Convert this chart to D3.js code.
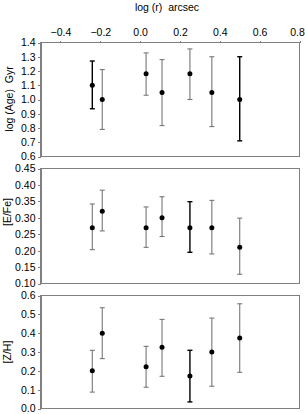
<!DOCTYPE html>
<html>
<head>
<meta charset="utf-8">
<script src="https://cdn.jsdelivr.net/npm/d3@7"></script>
<style>
  body { margin: 0; background: #fff; }
  svg text { font-family: "Liberation Sans", Arial, sans-serif; fill: #000; white-space: pre; }
  .axis path, .axis line { stroke: #808080; shape-rendering: crispEdges; }
</style>
</head>
<body>
<svg id="chart" width="305" height="414"></svg>
<script>
// radius of each aperture, log(r) in arcsec
var radius = [-0.24, -0.19, 0.03, 0.11, 0.25, 0.36, 0.50];

// log (Age) Gyr
var ageVal = [1.10, 1.00, 1.18, 1.05, 1.18, 1.05, 1.00];
var ageLo  = [0.935, 0.79, 1.03, 0.817, 1.00, 0.81, 0.71];
var ageHi  = [1.27, 1.21, 1.327, 1.28, 1.355, 1.30, 1.30];

// [E/Fe]
var efeVal = [0.27, 0.32, 0.27, 0.30, 0.27, 0.27, 0.21];
var efeLo  = [0.203, 0.26, 0.21, 0.243, 0.195, 0.19, 0.128];
var efeHi  = [0.342, 0.384, 0.333, 0.364, 0.349, 0.353, 0.299];

// [Z/H]
var zhVal = [0.20, 0.40, 0.222, 0.325, 0.173, 0.30, 0.374];
var zhLo  = [0.087, 0.265, 0.113, 0.171, 0.035, 0.118, 0.192];
var zhHi  = [0.309, 0.535, 0.33, 0.473, 0.309, 0.48, 0.556];

var xTicks = [-0.4, -0.2, 0.0, 0.2, 0.4, 0.6, 0.8];
var ageTicks = [0.6, 0.7, 0.8, 0.9, 1.0, 1.1, 1.2, 1.3, 1.4];
var efeTicks = [0.10, 0.15, 0.20, 0.25, 0.30, 0.35, 0.40, 0.45];
var zhTicks = [0.0, 0.1, 0.2, 0.3, 0.4, 0.5, 0.6];

var plotLeft = 40.5,
    plotRight = 299.5;

var svg = d3.select("#chart");

var xScale = d3.scaleLinear()
    .domain([-0.5, 0.8])
    .range([plotLeft, plotRight]);

var panels = [
    { label: "log (Age)  Gyr", val: ageVal, lo: ageLo, hi: ageHi, ticks: ageTicks,
      fmt: ".1f", top: 42.5, bottom: 156.5, labelX: 13, labelY: 99, dark: [0, 6] },
    { label: "[E/Fe]", val: efeVal, lo: efeLo, hi: efeHi, ticks: efeTicks,
      fmt: ".2f", top: 168.5, bottom: 283.5, labelX: 11, labelY: 212, dark: [4] },
    { label: "[Z/H]", val: zhVal, lo: zhLo, hi: zhHi, ticks: zhTicks,
      fmt: ".1f", top: 295.5, bottom: 408.5, labelX: 11, labelY: 352, dark: [4] }
];

// x title + top axis
svg.append("text")
    .attr("x", 167)
    .attr("y", 11)
    .attr("text-anchor", "middle")
    .style("font-size", "10.5px")
    .text("log (r)  arcsec");

svg.append("g")
    .attr("class", "axis")
    .attr("transform", "translate(0," + panels[0].top + ")")
    .call(d3.axisTop(xScale).tickValues(xTicks).tickFormat(d3.format(".1f"))
        .tickSizeInner(2).tickSizeOuter(0).tickPadding(5))
    .call(function(g) {
        g.select(".domain").remove();
        g.selectAll("text").style("font-size", "10.5px");
        // keep the last label inside the page
        g.selectAll("text").filter(function(d) { return d == 0.8; }).attr("dx", -2.5);
    });

panels.forEach(function(p) {
    var yScale = d3.scaleLinear()
        .domain([p.ticks[0], p.ticks[p.ticks.length - 1]])
        .range([p.bottom, p.top]);

    var g = svg.append("g");

    // frame
    g.append("rect")
        .attr("x", plotLeft)
        .attr("y", p.top)
        .attr("width", plotRight - plotLeft)
        .attr("height", p.bottom - p.top)
        .attr("fill", "none")
        .attr("stroke", "#808080")
        .attr("shape-rendering", "crispEdges");

    g.append("g")
        .attr("class", "axis")
        .attr("transform", "translate(" + plotLeft + ",0)")
        .call(d3.axisLeft(yScale).tickValues(p.ticks).tickFormat(d3.format(p.fmt))
            .tickSizeInner(3).tickSizeOuter(0).tickPadding(2))
        .call(function(a) {
            a.selectAll("text").style("font-size", "10.5px");
        });

    g.append("text")
        .attr("transform", "translate(" + p.labelX + "," + p.labelY + ") rotate(-90)")
        .attr("text-anchor", "middle")
        .style("font-size", "10.5px")
        .text(p.label);

    var pts = radius.map(function(r, i) {
        return { x: r, v: p.val[i], lo: p.lo[i], hi: p.hi[i],
                 color: p.dark.indexOf(i) >= 0 ? "#000" : "#777" };
    });

    var bars = g.selectAll(".err").data(pts).enter().append("g")
        .attr("stroke", function(d) { return d.color; })
        .attr("stroke-width", function(d) { return d.color == "#000" ? 1.4 : 1.1; });

    bars.append("line")
        .attr("x1", function(d) { return xScale(d.x); })
        .attr("x2", function(d) { return xScale(d.x); })
        .attr("y1", function(d) { return yScale(d.lo); })
        .attr("y2", function(d) { return yScale(d.hi); });

    ["lo", "hi"].forEach(function(k) {
        bars.append("line")
            .attr("x1", function(d) { return xScale(d.x) - 2.5; })
            .attr("x2", function(d) { return xScale(d.x) + 2.5; })
            .attr("y1", function(d) { return yScale(d[k]); })
            .attr("y2", function(d) { return yScale(d[k]); });
    });

    g.selectAll(".dot").data(pts).enter().append("circle")
        .attr("cx", function(d) { return xScale(d.x); })
        .attr("cy", function(d) { return yScale(d.v); })
        .attr("r", 2.5)
        .attr("fill", "#000");
});
</script>
</body>
</html>
